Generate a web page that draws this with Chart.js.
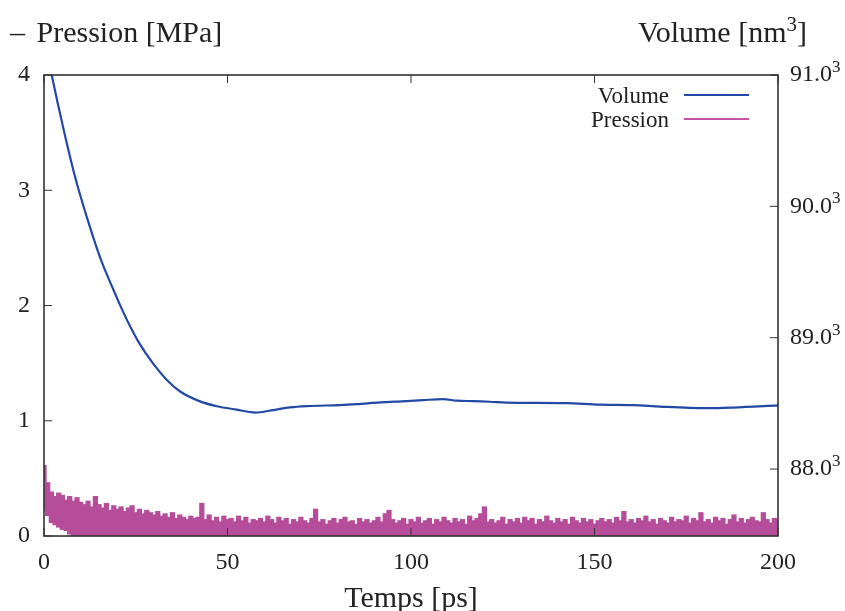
<!DOCTYPE html>
<html>
<head>
<meta charset="utf-8">
<title>Pression et volume</title>
<script src="https://cdn.jsdelivr.net/npm/chart.js@4.4.0/dist/chart.umd.min.js"></script>
<style>
  body { margin: 0; background: #fff; }
  #wrap { position: relative; width: 845px; height: 611px; }
  .axisTitle { position: absolute; top: 17px; font: 30px 'Liberation Serif', 'Times New Roman', serif; line-height: 30px; color: #222; white-space: nowrap; }
  #leftTitle { left: 10px; }
  #leftTitle span { margin-left: 4px; }
  #rightTitle { right: 38px; }
  .axisTitle sup { font-size: 21px; line-height: 0; }
</style>
</head>
<body>
<div id="wrap">
  <canvas id="myChart"></canvas>
  <div class="axisTitle" id="leftTitle">–<span> Pression [MPa]</span></div>
  <div class="axisTitle" id="rightTitle">Volume [nm<sup>3</sup>]</div>
</div>
<script>
// tick labels
const timeTicks = [0, 50, 100, 150, 200];
const presTicks = [0, 1, 2, 3, 4];
const volTicks = [88, 89, 90, 91];

// volume (x10^3 nm^3)
const volTime = [0, 2.1, 3.7, 5.3, 7.5, 8.9, 12.1, 15.3, 19.3, 20.7, 23.4, 25.7, 29.8, 33.4, 37.1,
  42.5, 47.1, 52.5, 57.5, 62.5, 67.0, 71.6, 80.7, 85.2, 91.6, 98.8, 103.4, 108.8, 112.5, 117.0,
  121.5, 126.1, 129.7, 142.4, 151.5, 160.5, 167.9, 180.6, 187.8, 200];
const volValue = [91.29, 91.0, 90.79, 90.59, 90.33, 90.18, 89.88, 89.61, 89.34, 89.25, 89.09, 88.97, 88.80, 88.68, 88.59,
  88.515, 88.478, 88.452, 88.43, 88.449, 88.469, 88.479, 88.487, 88.494, 88.507, 88.517, 88.525, 88.532, 88.52, 88.517,
  88.512, 88.505, 88.504, 88.502, 88.49, 88.487, 88.475, 88.463, 88.468, 88.484];

// pressure, one value per ps: top of the noisy band, and its lower edge at the start
const presTop = [
  0.61, 0.46, 0.38, 0.34, 0.37, 0.35, 0.31, 0.34, 0.30, 0.33,
  0.29, 0.27, 0.30, 0.25, 0.34, 0.27, 0.24, 0.28, 0.22, 0.26,
  0.23, 0.25, 0.21, 0.24, 0.26, 0.20, 0.23, 0.19, 0.22, 0.20,
  0.18, 0.21, 0.17, 0.19, 0.16, 0.20, 0.15, 0.18, 0.16, 0.14,
  0.17, 0.15, 0.16, 0.28, 0.14, 0.18, 0.13, 0.16, 0.12, 0.17,
  0.14, 0.15, 0.12, 0.17, 0.13, 0.16, 0.11, 0.14, 0.13, 0.15,
  0.12, 0.17, 0.14, 0.11, 0.16, 0.13, 0.15, 0.10, 0.14, 0.12,
  0.16, 0.13, 0.11, 0.15, 0.23, 0.12, 0.14, 0.10, 0.13, 0.15,
  0.11, 0.14, 0.16, 0.12, 0.13, 0.10, 0.15, 0.12, 0.14, 0.11,
  0.13, 0.16, 0.12, 0.19, 0.22, 0.14, 0.11, 0.13, 0.15, 0.10,
  0.14, 0.12, 0.16, 0.11, 0.13, 0.15, 0.10, 0.14, 0.12, 0.16,
  0.13, 0.11, 0.15, 0.12, 0.14, 0.10, 0.17, 0.13, 0.15, 0.19,
  0.25, 0.12, 0.14, 0.11, 0.13, 0.16, 0.10, 0.14, 0.12, 0.15,
  0.11, 0.16, 0.13, 0.15, 0.10, 0.14, 0.12, 0.17, 0.13, 0.11,
  0.15, 0.12, 0.14, 0.10, 0.16, 0.13, 0.11, 0.15, 0.12, 0.14,
  0.10, 0.13, 0.15, 0.12, 0.14, 0.11, 0.16, 0.13, 0.21, 0.12,
  0.14, 0.11, 0.15, 0.13, 0.17, 0.12, 0.14, 0.10, 0.15, 0.13,
  0.11, 0.16, 0.12, 0.14, 0.13, 0.17, 0.11, 0.15, 0.13, 0.20,
  0.12, 0.14, 0.11, 0.16, 0.13, 0.15, 0.10, 0.14, 0.18, 0.12,
  0.15, 0.11, 0.14, 0.16, 0.13, 0.12, 0.20, 0.14, 0.11, 0.15,
  0.13
];
const presLow = [0.22, 0.18, 0.12, 0.10, 0.08, 0.06, 0.05, 0.02];
const presTime = presTop.map((_, i) => i);

const ink = '#222';
const serif = "'Liberation Serif', 'Times New Roman', serif";
Chart.defaults.font.family = serif;
Chart.defaults.color = ink;

// frame, inward tick marks, "x10^3" exponents and a gnuplot-like key (text left, line right)
const frame = {
  id: 'frame',
  afterDatasetsDraw(chart) {
    const { ctx, chartArea: a, scales } = chart;
    ctx.save();
    ctx.strokeStyle = '#333';
    ctx.lineWidth = 1;
    ctx.beginPath();
    scales.x.ticks.forEach(t => {
      const px = scales.x.getPixelForValue(t.value);
      ctx.moveTo(px, a.bottom); ctx.lineTo(px, a.bottom - 8);
      ctx.moveTo(px, a.top); ctx.lineTo(px, a.top + 8);
    });
    scales.yP.ticks.forEach(t => {
      const py = scales.yP.getPixelForValue(t.value);
      ctx.moveTo(a.left, py); ctx.lineTo(a.left + 8, py);
    });
    scales.yV.ticks.forEach(t => {
      const py = scales.yV.getPixelForValue(t.value);
      ctx.moveTo(a.right, py); ctx.lineTo(a.right - 8, py);
    });
    ctx.stroke();
    ctx.lineWidth = 1.6;
    ctx.strokeRect(a.left, a.top, a.width, a.height);

    // exponent after each volume tick label
    ctx.fillStyle = ink;
    ctx.textAlign = 'left';
    ctx.textBaseline = 'alphabetic';
    scales.yV.ticks.forEach(t => {
      ctx.font = '24px ' + serif;
      const w = ctx.measureText(t.label).width;
      const py = scales.yV.getPixelForValue(t.value);
      ctx.font = '17px ' + serif;
      ctx.fillText('3', a.right + 12 + w, py - 3);
    });

    ctx.font = '23px ' + serif;
    ctx.textAlign = 'right';
    ctx.textBaseline = 'middle';
    chart.data.datasets.forEach((d, i) => {
      const y = a.top + 22 + i * 24;
      ctx.fillStyle = ink;
      ctx.fillText(d.label, a.left + 625, y);
      ctx.strokeStyle = d.borderColor;
      ctx.lineWidth = 1.8;
      ctx.beginPath();
      ctx.moveTo(a.left + 640, y - 2);
      ctx.lineTo(a.left + 705, y - 2);
      ctx.stroke();
    });
    ctx.restore();
  }
};

new Chart(document.getElementById('myChart'), {
  type: 'line',
  data: {
    datasets: [
      {
        type: 'line',
        label: 'Volume',
        yAxisID: 'yV',
        data: volTime.map((t, i) => ({ x: t, y: volValue[i] })),
        borderColor: '#2249a6',
        borderWidth: 2.2,
        pointRadius: 0,
        cubicInterpolationMode: 'monotone',
        fill: false
      },
      {
        type: 'bar',
        label: 'Pression',
        yAxisID: 'yP',
        data: presTime.map((t, i) => ({ x: t, y: [presLow[i] ?? 0, presTop[i]] })),
        backgroundColor: '#b64d9b',
        borderColor: '#c453a5',
        borderWidth: 0,
        inflateAmount: 0.8,
        barPercentage: 1,
        categoryPercentage: 1,
        grouped: false
      }
    ]
  },
  options: {
    responsive: true,
    maintainAspectRatio: false,
    animation: false,
    layout: { padding: { top: 75 } },
    plugins: { legend: { display: false }, tooltip: { enabled: false } },
    scales: {
      x: {
        type: 'linear', min: 0, max: 200, offset: false,
        afterBuildTicks: s => { s.ticks = timeTicks.map(v => ({ value: v })); },
        afterFit: s => { s.height = 75; },
        ticks: { padding: 12, font: { size: 24 } },
        grid: { display: false, drawTicks: false, offset: false },
        border: { display: false },
        title: { display: true, text: 'Temps [ps]', font: { size: 30 }, padding: { top: 0, bottom: -6 } }
      },
      yP: {
        position: 'left', min: 0, max: 4,
        afterBuildTicks: s => { s.ticks = presTicks.map(v => ({ value: v })); },
        afterFit: s => { s.width = 44; },
        ticks: { padding: 14, font: { size: 24 } },
        grid: { display: false, drawTicks: false },
        border: { display: false }
      },
      yV: {
        position: 'right', min: 87.49, max: 91.0,
        afterBuildTicks: s => { s.ticks = volTicks.map(v => ({ value: v })); },
        afterFit: s => { s.width = 67; },
        ticks: { padding: 12, font: { size: 24 }, callback: v => v.toFixed(1) },
        grid: { display: false, drawTicks: false },
        border: { display: false }
      }
    }
  },
  plugins: [frame]
});
</script>
</body>
</html>
